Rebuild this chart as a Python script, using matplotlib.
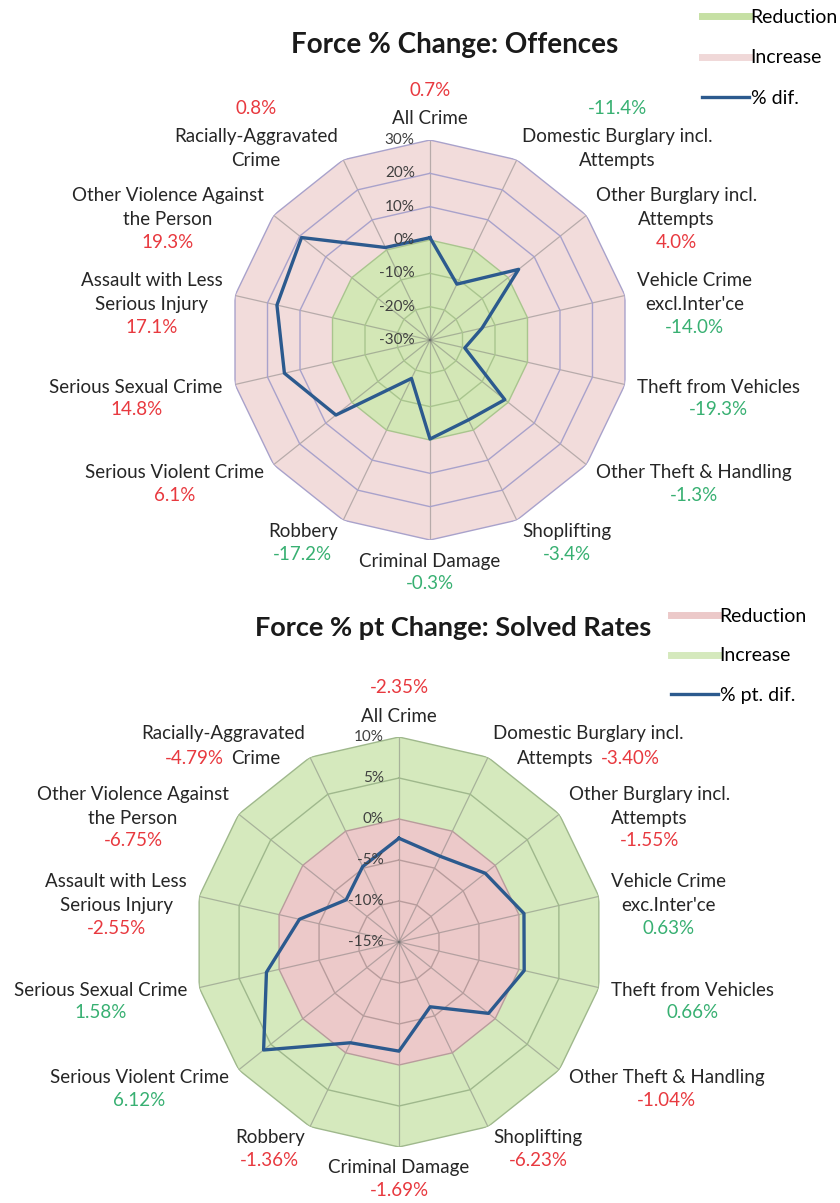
import numpy as np
import matplotlib.pyplot as plt
from matplotlib.lines import Line2D
from matplotlib.offsetbox import TextArea, HPacker, VPacker, AnnotationBbox

plt.rcParams['font.family'] = ['Lato', 'DejaVu Sans']

# ---- data ----
categories_offences = [
    "All Crime", "Domestic Burglary incl.\nAttempts", "Other Burglary incl.\nAttempts",
    "Vehicle Crime\nexcl.Inter'ce", "Theft from Vehicles", "Other Theft & Handling",
    "Shoplifting", "Criminal Damage", "Robbery", "Serious Violent Crime",
    "Serious Sexual Crime", "Assault with Less\nSerious Injury",
    "Other Violence Against\nthe Person", "Racially-Aggravated\nCrime",
]
offences_change = [0.7, -11.4, 4.0, -14.0, -19.3, -1.3, -3.4, -0.3, -17.2, 6.1, 14.8, 17.1, 19.3, 0.8]

categories_solved = [
    "All Crime", "Domestic Burglary incl.\nAttempts", "Other Burglary incl.\nAttempts",
    "Vehicle Crime\nexc.Inter'ce", "Theft from Vehicles", "Other Theft & Handling",
    "Shoplifting", "Criminal Damage", "Robbery", "Serious Violent Crime",
    "Serious Sexual Crime", "Assault with Less\nSerious Injury",
    "Other Violence Against\nthe Person", "Racially-Aggravated\nCrime",
]
solved_change = [-2.35, -3.40, -1.55, 0.63, 0.66, -1.04, -6.23, -1.69, -1.36, 6.12, 1.58, -2.55, -6.75, -4.79]

legend_offences = ["Reduction", "Increase", "% dif."]
legend_solved = ["Reduction", "Increase", "% pt. dif."]

# where each value label sits relative to its category label
place_offences = ['above', 'above'] + ['below'] * 11 + ['above']
place_solved = ['above', 'right'] + ['below'] * 11 + ['left']

RED = '#e8393f'
GREEN = '#38b072'
BLUE = '#2c5a8e'
TXT = '#262626'

LABEL_FS = 13.5
LSP = 1.5


def value_label(ax, txt_artist, text, color, where):
    if where == 'above':
        ax.annotate(text, xy=(0.5, 1), xycoords=txt_artist, xytext=(0, 8),
                    textcoords='offset points', ha='center', va='bottom',
                    fontsize=LABEL_FS, color=color, annotation_clip=False)
    else:
        ax.annotate(text, xy=(0.5, 0), xycoords=txt_artist, xytext=(0, -4),
                    textcoords='offset points', ha='center', va='top',
                    fontsize=LABEL_FS, color=color, annotation_clip=False)


def draw_radar(ax, cats, vals, texts, places, rmin, rmax, step,
               inner_fill, outer_fill, inner_grid, outer_grid, pos_color, neg_color):
    n = len(cats)
    theta = np.arange(n) * 2 * np.pi / n
    closed = np.append(theta, theta[0])

    ax.set_theta_zero_location('N')
    ax.set_theta_direction(-1)
    ax.set_ylim(rmin, rmax)
    ax.grid(False)
    ax.set_xticks([])
    ax.set_yticks([])
    ax.spines['polar'].set_visible(False)
    ax.patch.set_visible(False)

    ax.fill(closed, np.full(n + 1, rmax), color=outer_fill, lw=0, zorder=1)
    ax.fill(closed, np.zeros(n + 1), color=inner_fill, lw=0, zorder=1)

    for t in theta:
        ax.plot([t, t], [rmin, rmax], color='#707070', alpha=0.45, lw=0.9, zorder=2)
    ticks = np.arange(rmin, rmax + step / 2, step)
    for v in ticks[1:]:
        ax.plot(closed, np.full(n + 1, v), color=outer_grid if v > 0 else inner_grid,
                lw=1.0, zorder=2)
    for v in ticks:
        ax.annotate(f'{v:g}%', xy=(0, v), xytext=(-11, 0), textcoords='offset points',
                    ha='right', va='center', fontsize=11, color='#404040', zorder=5)

    ax.plot(closed, np.append(vals, vals[0]), color=BLUE, lw=2.4, zorder=4)

    off = 9
    for t, name, v, vt, where in zip(theta, cats, vals, texts, places):
        s, c = np.sin(t), np.cos(t)
        ha = 'left' if s > 0.1 else ('right' if s < -0.1 else 'center')
        va = 'bottom' if c > 0.95 else ('top' if c < -0.95 else 'center')
        col = pos_color if v > 0 else neg_color
        if where in ('left', 'right'):
            lines = name.split('\n')
            props = dict(fontsize=LABEL_FS, color=TXT)
            vprops = dict(fontsize=LABEL_FS, color=col)
            last = [TextArea(vt, textprops=vprops), TextArea(lines[-1], textprops=props)]
            if where == 'right':
                last = last[::-1]
            rows = [TextArea(l, textprops=props) for l in lines[:-1]]
            rows.append(HPacker(children=last, align='baseline', pad=0, sep=5))
            box = VPacker(children=rows, align='center', pad=0, sep=6)
            bx = {'left': 0, 'center': 0.5, 'right': 1}[ha]
            by = {'bottom': 0, 'center': 0.5, 'top': 1}[va]
            ab = AnnotationBbox(box, (t, rmax), xybox=(off * s, off * c),
                                boxcoords='offset points', box_alignment=(bx, by),
                                frameon=False, pad=0, annotation_clip=False)
            ax.add_artist(ab)
        else:
            txt = ax.annotate(name, xy=(t, rmax), xytext=(off * s, off * c),
                              textcoords='offset points', ha=ha, va=va,
                              multialignment='center', fontsize=LABEL_FS, color=TXT,
                              linespacing=LSP, annotation_clip=False)
            value_label(ax, txt, vt, col, where)


W, H = 840, 1203
fig = plt.figure(figsize=(W / 100, H / 100), dpi=100)

# top chart: centre (430, 340), radius 200 px
ax1 = fig.add_axes([(430 - 200) / W, (H - 340 - 200) / H, 400 / W, 400 / H], projection='polar')
draw_radar(ax1, categories_offences, offences_change,
           [f'{v:.1f}%' for v in offences_change], place_offences,
           -30, 30, 10, '#d3e7b6', '#f2dcdb', '#a9c58e', '#a9a2cb', RED, GREEN)

# bottom chart: centre (399, 942), radius 205 px
ax2 = fig.add_axes([(399 - 205) / W, (H - 942 - 205) / H, 410 / W, 410 / H], projection='polar')
draw_radar(ax2, categories_solved, solved_change,
           [f'{v:.2f}%' for v in solved_change], place_solved,
           -15, 10, 5, '#ecc9c9', '#d5e9bd', '#b89c9c', '#9fb88c', GREEN, RED)

fig.text(455 / W, 1 - 45 / H, 'Force % Change: Offences', ha='center', va='center',
         fontsize=20, fontweight='bold', color='#1a1a1a')
fig.text(453 / W, 1 - 628 / H, 'Force % pt Change: Solved Rates', ha='center', va='center',
         fontsize=19.5, fontweight='bold', color='#1a1a1a')

h1 = [Line2D([], [], color='#c6e0a4', lw=5),
      Line2D([], [], color='#f0d8d8', lw=5),
      Line2D([], [], color=BLUE, lw=2.4)]
fig.legend(h1, legend_offences, loc='upper left', bbox_to_anchor=(702 / W, 1 - 9 / H),
           frameon=False, fontsize=14, handlelength=2.4, handletextpad=0.1,
           labelspacing=1.2, borderpad=0, borderaxespad=0)

h2 = [Line2D([], [], color='#ecc9c9', lw=5),
      Line2D([], [], color='#d5e9bd', lw=5),
      Line2D([], [], color=BLUE, lw=2.4)]
fig.legend(h2, legend_solved, loc='upper left', bbox_to_anchor=(671 / W, 1 - 608 / H),
           frameon=False, fontsize=14, handlelength=2.4, handletextpad=0.1,
           labelspacing=1.15, borderpad=0, borderaxespad=0)

fig.savefig('out.png', dpi=100)
